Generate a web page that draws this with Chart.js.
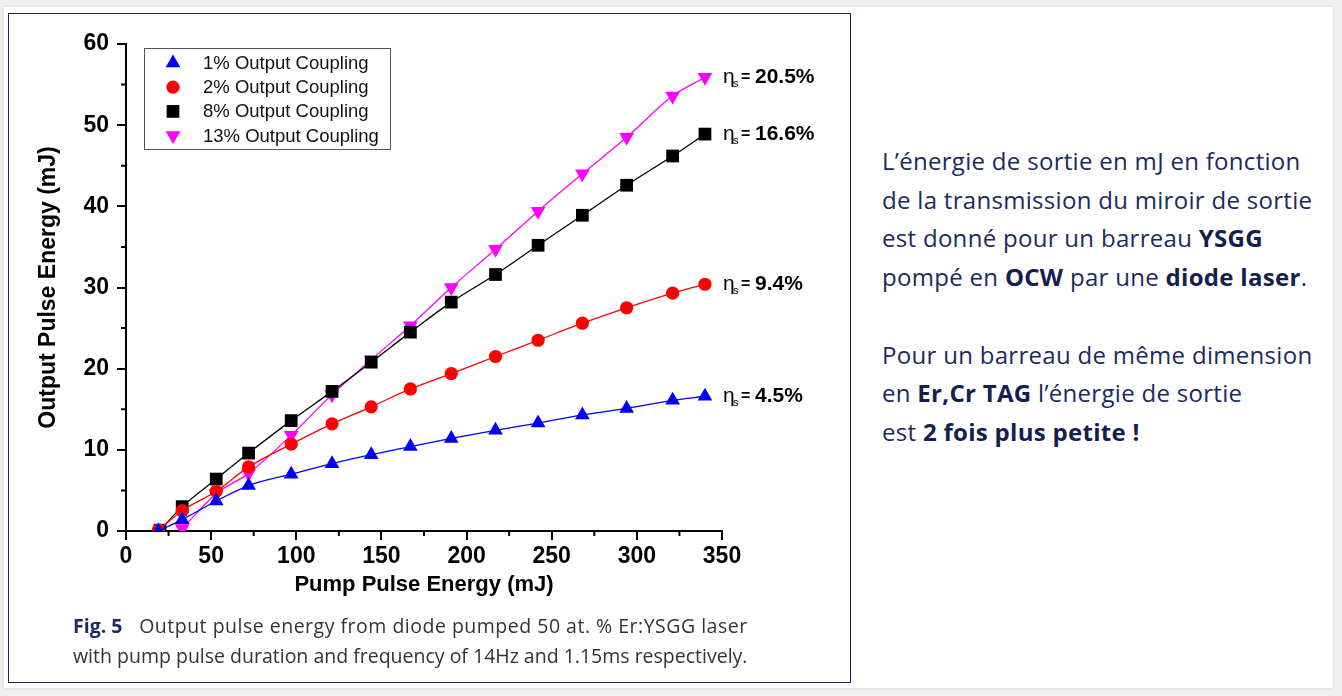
<!DOCTYPE html>
<html>
<head>
<meta charset="utf-8">
<script src="https://cdn.jsdelivr.net/npm/chart.js@4"></script>
<style>
  html, body { margin: 0; padding: 0; }
  body { width: 1342px; height: 696px; background: #eeeeee; position: relative; overflow: hidden; }
  #card { position: absolute; left: 4px; top: 7px; width: 1329px; height: 681px; background: #ffffff; box-shadow: 0 0 3px rgba(0,0,0,0.12); }
  #frame { position: absolute; left: 8px; top: 13px; width: 841px; height: 668px; border: 1px solid #1c2456; background: #fff; }
  #chart-box { position: absolute; left: 8px; top: 13px; width: 843px; height: 600px; }
  #caption { position: absolute; left: 73px; top: 611px; font-family: "Open Sans", sans-serif; font-size: 19.5px; line-height: 30px; color: #333; white-space: nowrap; }
  #caption .first { letter-spacing: 0.5px; }
  #caption b { color: #1c2a66; letter-spacing: 0; }
  #side { position: absolute; left: 882px; top: 142px; font-family: "Open Sans", sans-serif; font-size: 24px; letter-spacing: 0.3px; line-height: 38.7px; color: #1b2a5e; white-space: nowrap; }
  #side b { color: #13204f; }
</style>
</head>
<body>
<div id="card"></div>
<div id="frame"></div>
<div id="chart-box"><canvas id="energyChart"></canvas></div>
<div id="caption"><span class="first"><b>Fig. 5</b>&nbsp;&nbsp; Output pulse energy from diode pumped 50 at. % Er:YSGG laser</span><br>with pump pulse duration and frequency of 14Hz and 1.15ms respectively.</div>
<div id="side">
L’énergie de sortie en mJ en fonction<br>
de la transmission du miroir de sortie<br>
est donné pour un barreau <b>YSGG</b><br>
pompé en <b>OCW</b> par une <b>diode laser</b>.<br>
<br>
Pour un barreau de même dimension<br>
en <b>Er,Cr TAG</b> l’énergie de sortie<br>
est <b>2 fois plus petite !</b>
</div>
<script>
// Data (pump energy in mJ, output energy in mJ)
const seriesNames = ['1% Output Coupling', '2% Output Coupling', '8% Output Coupling', '13% Output Coupling'];
const pumpEnergy = [19, 33, 53, 72, 97, 121, 144, 167, 191, 217, 242, 268, 294, 321, 340];
const pumpEnergy8 = [20, 33, 53, 72, 97, 121, 144, 167, 191, 217, 242, 268, 294, 321, 340];
const pumpEnergy13 = [33, 53, 72, 97, 121, 144, 167, 191, 217, 242, 268, 294, 321, 340];
const output1 = [0, 1.4, 3.7, 5.6, 7.0, 8.3, 9.4, 10.4, 11.4, 12.4, 13.3, 14.3, 15.1, 16.1, 16.6];
const output2 = [0.1, 2.5, 4.9, 7.9, 10.7, 13.2, 15.3, 17.5, 19.4, 21.5, 23.5, 25.6, 27.5, 29.3, 30.4];
const output8 = [0.1, 3.0, 6.4, 9.6, 13.6, 17.2, 20.8, 24.5, 28.2, 31.6, 35.2, 38.9, 42.6, 46.2, 48.9];
const output13 = [0.3, 4.6, 7.1, 11.8, 16.8, 21.1, 25.3, 30.0, 34.7, 39.4, 44.0, 48.5, 53.6, 55.9];
const slopeLabels = ['4.5%', '9.4%', '16.6%', '20.5%'];
const xTicks = [0, 50, 100, 150, 200, 250, 300, 350];
const yTicks = [0, 10, 20, 30, 40, 50, 60];

const colors = ['#0000ff', '#ff0000', '#000000', '#ff00ff'];
const styles = [
  { pointStyle: 'triangle', radius: 8.5, rotation: 0 },
  { pointStyle: 'circle', radius: 6.6, rotation: 0 },
  { pointStyle: 'rect', radius: 9, rotation: 0 },
  { pointStyle: 'triangle', radius: 8.5, rotation: 180 }
];

function toPoints(xs, ys) {
  return xs.map((x, i) => ({ x: x, y: ys[i] }));
}

const dataSets = [
  toPoints(pumpEnergy, output1),
  toPoints(pumpEnergy, output2),
  toPoints(pumpEnergy8, output8),
  toPoints(pumpEnergy13, output13)
];

const baseFont = '"Liberation Sans", Arial, sans-serif';

// small outward minor ticks halfway between the labelled ones
const minorTicks = {
  id: 'minorTicks',
  afterDraw(chart) {
    const ctx = chart.ctx;
    const xs = chart.scales.x, ys = chart.scales.y;
    ctx.save();
    ctx.strokeStyle = '#000';
    ctx.lineWidth = 2;
    ctx.beginPath();
    for (let i = 0; i < xTicks.length - 1; i++) {
      const px = xs.getPixelForValue((xTicks[i] + xTicks[i + 1]) / 2);
      ctx.moveTo(px, xs.top);
      ctx.lineTo(px, xs.top + 5);
    }
    for (let i = 0; i < yTicks.length - 1; i++) {
      const py = ys.getPixelForValue((yTicks[i] + yTicks[i + 1]) / 2);
      ctx.moveTo(ys.right, py);
      ctx.lineTo(ys.right - 5, py);
    }
    ctx.stroke();
    ctx.restore();
  }
};

function drawMarker(ctx, style, color, x, y) {
  ctx.fillStyle = color;
  ctx.beginPath();
  const r = style.radius;
  if (style.pointStyle === 'circle') {
    ctx.arc(x, y, r, 0, Math.PI * 2);
  } else if (style.pointStyle === 'rect') {
    const s = r * Math.SQRT1_2;
    ctx.rect(x - s, y - s, 2 * s, 2 * s);
  } else {
    const dir = style.rotation === 180 ? -1 : 1;
    ctx.moveTo(x, y - dir * r);
    ctx.lineTo(x + r * 0.866, y + dir * r * 0.5);
    ctx.lineTo(x - r * 0.866, y + dir * r * 0.5);
    ctx.closePath();
  }
  ctx.fill();
}

// boxed legend inside the plot, top left
const boxLegend = {
  id: 'boxLegend',
  afterDraw(chart) {
    const ctx = chart.ctx;
    const left = 136, top = 35, w = 246, h = 101;
    ctx.save();
    ctx.strokeStyle = '#555';
    ctx.lineWidth = 1;
    ctx.strokeRect(left + 0.5, top + 0.5, w, h);
    ctx.font = '18.5px ' + baseFont;
    ctx.textBaseline = 'middle';
    seriesNames.forEach((name, i) => {
      const y = top + 15 + i * 24.2;
      drawMarker(ctx, styles[i], colors[i], left + 29, y);
      ctx.fillStyle = '#111';
      ctx.fillText(name, left + 59, y + 1);
    });
    ctx.restore();
  }
};

// slope efficiency labels next to the last point of each curve
const slopeText = {
  id: 'slopeText',
  afterDatasetsDraw(chart) {
    const ctx = chart.ctx;
    ctx.save();
    ctx.fillStyle = '#000';
    ctx.textBaseline = 'middle';
    slopeLabels.forEach((txt, i) => {
      const meta = chart.getDatasetMeta(i);
      const pt = meta.data[meta.data.length - 1];
      const x = pt.x + 18, y = pt.y;
      ctx.font = '21px ' + baseFont;
      ctx.fillText('η', x, y);
      ctx.font = '11px ' + baseFont;
      ctx.fillText('s', x + 10, y + 7);
      ctx.font = 'bold 16px ' + baseFont;
      ctx.fillText('=', x + 18, y);
      ctx.font = 'bold 21px ' + baseFont;
      ctx.fillText(txt, x + 32, y);
    });
    ctx.restore();
  }
};

const energyChart = new Chart(document.getElementById('energyChart').getContext('2d'), {
  type: 'line',
  data: {
    datasets: dataSets.map((pts, i) => ({
      label: seriesNames[i],
      data: pts,
      borderColor: colors[i],
      backgroundColor: colors[i],
      borderWidth: 1.3,
      pointStyle: styles[i].pointStyle,
      pointRadius: styles[i].radius,
      pointRotation: styles[i].rotation,
      pointBorderWidth: 0,
      pointBackgroundColor: colors[i],
      cubicInterpolationMode: 'monotone',
      fill: false
    }))
  },
  options: {
    responsive: true,
    maintainAspectRatio: false,
    animation: false,
    layout: { padding: { left: 0, top: 31, right: 129, bottom: 0 } },
    plugins: {
      legend: { display: false },
      tooltip: { enabled: false }
    },
    scales: {
      x: {
        type: 'linear',
        min: 0,
        max: 350,
        afterBuildTicks(scale) { scale.ticks = xTicks.map(v => ({ value: v })); },
        afterFit(scale) { scale.height = 82; },
        ticks: { color: '#000', padding: 3, font: { family: baseFont, size: 23, weight: 'bold' } },
        grid: { drawOnChartArea: false, tickLength: 9, color: '#000', lineWidth: 2 },
        border: { display: true, color: '#000', width: 2 },
        title: {
          display: true,
          text: 'Pump Pulse Energy (mJ)',
          color: '#000',
          padding: { top: 0, bottom: 15 },
          font: { family: baseFont, size: 22, weight: 'bold' }
        }
      },
      y: {
        min: 0,
        max: 60,
        afterBuildTicks(scale) { scale.ticks = yTicks.map(v => ({ value: v })); },
        afterFit(scale) { scale.width = 118; },
        ticks: { color: '#000', padding: 8, font: { family: baseFont, size: 23, weight: 'bold' } },
        grid: { drawOnChartArea: false, tickLength: 9, color: '#000', lineWidth: 2 },
        border: { display: true, color: '#000', width: 2 },
        title: {
          display: true,
          text: 'Output Pulse Energy (mJ)',
          color: '#000',
          padding: { top: 27, bottom: 0 },
          font: { family: baseFont, size: 23, weight: 'bold' }
        }
      }
    }
  },
  plugins: [minorTicks, boxLegend, slopeText]
});
</script>
</body>
</html>
